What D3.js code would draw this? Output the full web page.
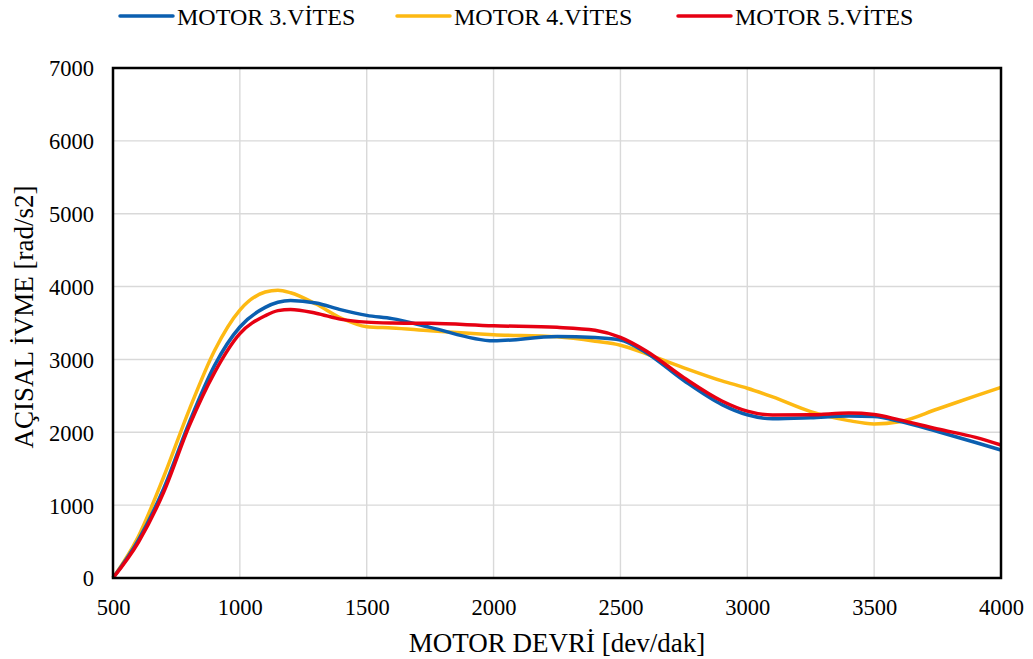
<!DOCTYPE html>
<html>
<head>
<meta charset="utf-8">
<script src="https://cdn.jsdelivr.net/npm/d3@7"></script>
<style>
  html, body { margin: 0; padding: 0; background: #fff; }
  svg { display: block; }
  svg text { font-family: "Liberation Serif", "Times New Roman", serif; fill: #000; }
</style>
</head>
<body>
<svg id="chart" width="1033" height="659"></svg>
<script>
// Engine speed samples (rpm)
const rpm = [500, 600, 700, 800, 900, 1000, 1100, 1150, 1200, 1300, 1400, 1500, 1600, 1750, 2000, 2250, 2400, 2500, 2600, 2750, 2900, 3000, 3100, 3250, 3400, 3500, 3600, 3750, 3900, 4000];

// Angular acceleration (rad/s2) per gear
const gear3 = [0, 520, 1230, 2130, 2915, 3445, 3715, 3785, 3810, 3775, 3680, 3605, 3560, 3440, 3255, 3315, 3300, 3267, 3095, 2710, 2380, 2240, 2185, 2200, 2224, 2215, 2150, 2010, 1860, 1757];
const gear4 = [0, 570, 1390, 2305, 3120, 3678, 3925, 3950, 3915, 3760, 3565, 3450, 3432, 3393, 3340, 3310, 3250, 3195, 3080, 2885, 2705, 2605, 2485, 2283, 2160, 2115, 2145, 2320, 2500, 2617];
const gear5 = [0, 490, 1180, 2085, 2820, 3355, 3600, 3670, 3687, 3635, 3550, 3512, 3500, 3495, 3462, 3440, 3400, 3303, 3120, 2750, 2430, 2290, 2237, 2240, 2265, 2245, 2170, 2045, 1930, 1825];

const seriesNames = ["MOTOR 3.VİTES", "MOTOR 4.VİTES", "MOTOR 5.VİTES"];
const seriesColors = ["#0b5fb0", "#fdb913", "#e60012"];

const xTicks = [500, 1000, 1500, 2000, 2500, 3000, 3500, 4000];
const yTicks = [0, 1000, 2000, 3000, 4000, 5000, 6000, 7000];

const xTitle = "MOTOR DEVRİ [dev/dak]";
const yTitle = "AÇISAL  İVME [rad/s2]";

const svg = d3.select("#chart");
const plotLeft = 113, plotRight = 1001, plotTop = 68, plotBottom = 578;

const x = d3.scaleLinear().domain([500, 4000]).range([plotLeft, plotRight]);
const y = d3.scaleLinear().domain([0, 7000]).range([plotBottom, plotTop]);

// Gridlines
const grid = svg.append("g");
grid.selectAll("line.h").data(yTicks).join("line")
  .attr("class", "h")
  .attr("x1", plotLeft).attr("x2", plotRight)
  .attr("y1", d => y(d)).attr("y2", d => y(d))
  .attr("stroke", "#d9d9d9").attr("stroke-width", 1.4);
grid.selectAll("line.v").data(xTicks).join("line")
  .attr("class", "v")
  .attr("y1", plotTop).attr("y2", plotBottom)
  .attr("x1", d => x(d)).attr("x2", d => x(d))
  .attr("stroke", "#d9d9d9").attr("stroke-width", 1.4);

// Axes (labels only; the frame is drawn separately)
const xAxis = svg.append("g")
  .attr("transform", `translate(0,${plotBottom})`)
  .call(d3.axisBottom(x).tickValues(xTicks).tickSize(0).tickPadding(21).tickFormat(d3.format("d")));
xAxis.select(".domain").remove();
xAxis.attr("font-family", null);
xAxis.selectAll("text").attr("font-size", 22.5).attr("dy", "0.71em");

const yAxis = svg.append("g")
  .attr("transform", `translate(${plotLeft},0)`)
  .call(d3.axisLeft(y).tickValues(yTicks).tickSize(0).tickPadding(19).tickFormat(d3.format("d")));
yAxis.select(".domain").remove();
yAxis.attr("font-family", null);
yAxis.selectAll("text").attr("font-size", 22.5).attr("dy", "0.35em");

// Curves
const data = [gear3, gear4, gear5];
const line = d3.line()
  .x((d, i) => x(rpm[i]))
  .y(d => y(d))
  .curve(d3.curveMonotoneX);

const drawOrder = [1, 0, 2];
svg.append("g").selectAll("path").data(drawOrder).join("path")
  .attr("d", k => line(data[k]))
  .attr("fill", "none")
  .attr("stroke", k => seriesColors[k])
  .attr("stroke-width", 3.5)
  .attr("stroke-linejoin", "round");

// Plot frame
svg.append("rect")
  .attr("x", plotLeft).attr("y", plotTop)
  .attr("width", plotRight - plotLeft).attr("height", plotBottom - plotTop)
  .attr("fill", "none").attr("stroke", "#000").attr("stroke-width", 2.5);

// Axis titles
svg.append("text")
  .attr("x", 557).attr("y", 652)
  .attr("text-anchor", "middle")
  .attr("font-size", 27)
  .text(xTitle);

svg.append("text")
  .attr("transform", "translate(33,317) rotate(-90)")
  .attr("text-anchor", "middle")
  .attr("font-size", 27)
  .text(yTitle);

// Legend
const legendX = [120, 397, 678];
const lg = svg.append("g");
seriesNames.forEach((name, i) => {
  lg.append("line")
    .attr("x1", legendX[i]).attr("x2", legendX[i] + 53)
    .attr("y1", 16).attr("y2", 16)
    .attr("stroke", seriesColors[i]).attr("stroke-width", 3.5)
    .attr("stroke-linecap", "round");
  lg.append("text")
    .attr("x", legendX[i] + 57).attr("y", 25)
    .attr("font-size", 24)
    .text(name);
});
</script>
</body>
</html>
